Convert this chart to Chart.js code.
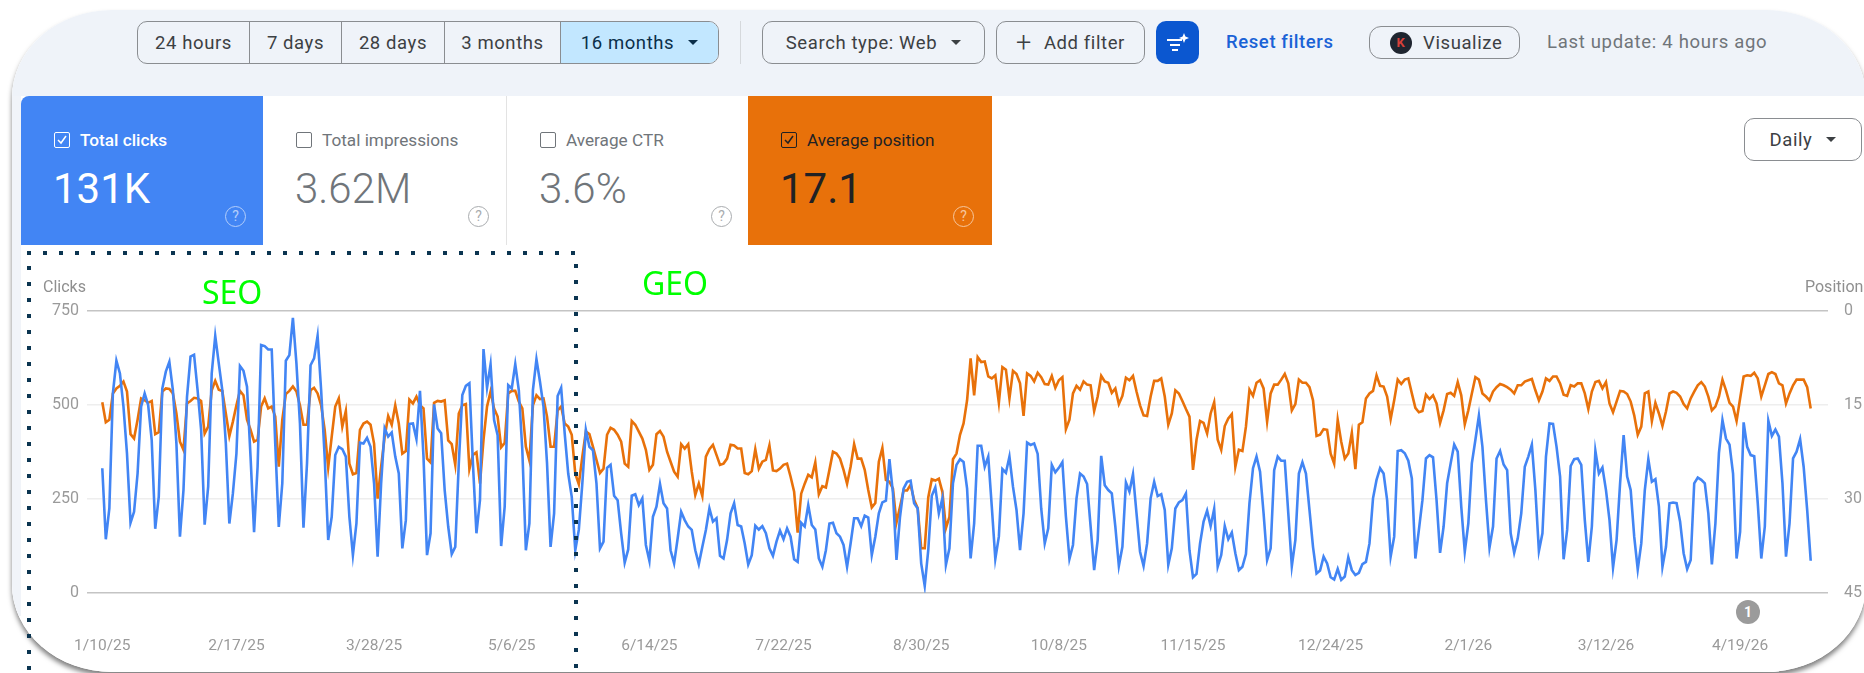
<!DOCTYPE html>
<html>
<head>
<meta charset="utf-8">
<title>Search performance</title>
<script src="https://cdn.jsdelivr.net/npm/chart.js@4"></script>
<style>
  html, body { margin: 0; width: 1864px; height: 673px; overflow: hidden; background: #fff; font-family: Roboto, sans-serif; }
  .abs { position: absolute; }
  /* big rounded screenshot frame */
  .frame { position: absolute; left: 12px; top: 10px; width: 1854px; height: 662px; background: #fff; overflow: hidden;
    border-radius: 100px / 88px; }
  .shadow { position: absolute; left: 12px; top: 10px; width: 1854px; height: 662px; border-radius: 100px / 88px;
    box-shadow: 0 4px 5px rgba(0,0,0,.5); }
  .page { position: absolute; left: -12px; top: -10px; width: 1864px; height: 673px; }
  .topbar { position: absolute; left: 0; top: 0; width: 1864px; height: 96px; background: #eff3f9; }
  .strip { position: absolute; left: 0; top: 96px; width: 21px; height: 520px; background: #f1f4f9; }
  .btn { position: absolute; box-sizing: border-box; border: 1.5px solid #8a8d91; color: #3c4043; font-size: 18.5px; letter-spacing: .6px;
    display: flex; align-items: center; justify-content: center; }
  .seg { position: absolute; left: 137px; top: 21px; width: 582px; height: 43px; box-sizing: border-box; border: 1.5px solid #8a8d91; border-radius: 10px; overflow: hidden; display: flex; color: #3c4043; font-size: 18.5px; letter-spacing: .6px; }
  .seg div { box-sizing: border-box; border-right: 1px solid #8a8d91; display: flex; align-items: center; justify-content: center; height: 100%; }
  .seg div:last-child { border-right: 0; background: #c2e7ff; color: #0b2f4a; }
  .caret { display: inline-block; width: 0; height: 0; border-left: 5px solid transparent; border-right: 5px solid transparent; border-top: 5px solid #3c4043; margin-left: 14px; }
  .card { position: absolute; top: 96px; height: 149px; background: #fff; }
  .card .lab { position: absolute; left: 59px; top: 34px; font-size: 17.2px; white-space: nowrap; line-height: 20px; }
  .card .box { position: absolute; left: 33px; top: 36px; width: 16px; height: 16px; box-sizing: border-box; border: 1.5px solid currentColor; border-radius: 2px; }
  .card .box svg { position: absolute; left: 1.5px; top: 1.5px; }
  .card .val { position: absolute; left: 32px; top: 69px; font-size: 42px; font-weight: 300; line-height: 48px; white-space: nowrap; }
  .card .help { position: absolute; left: 204px; top: 110px; width: 21px; height: 21px; box-sizing: border-box; border: 1.5px solid currentColor; border-radius: 50%; font-size: 14px; line-height: 18px; text-align: center; opacity: .6; }
  .chart-wrap { position: absolute; left: 0; top: 250px; width: 1864px; height: 423px; }
  .axis-title { position: absolute; top: 277px; font-size: 16px; color: #8f8f8f; }
  .note { position: absolute; left: 1736px; top: 600px; width: 24px; height: 24px; border-radius: 50%; background: #9b9b9b; color: #fff; font-size: 14px; font-weight: 700; line-height: 24px; text-align: center; }
  .zone { position: absolute; color: #00ff00; font-family: "Noto Sans", sans-serif; font-size: 32px; line-height: 36px; }
  .dots-h { position: absolute; height: 4px; background: repeating-linear-gradient(90deg, #0b3551 0 4px, transparent 4px 16px); }
  .dots-v { position: absolute; width: 4px; background: repeating-linear-gradient(180deg, #0b3551 0 4px, transparent 4px 16px); }
</style>
</head>
<body>
<div class="shadow"></div>
<div class="frame"><div class="page">
  <div class="topbar"></div>
  <div class="strip"></div>

  <div class="seg">
    <div style="width:112px">24 hours</div>
    <div style="width:92px">7 days</div>
    <div style="width:103px">28 days</div>
    <div style="width:116px">3 months</div>
    <div style="flex:1">16 months<span class="caret" style="border-top-color:#0b2f4a"></span></div>
  </div>
  <div class="abs" style="left:740px;top:21px;width:1px;height:43px;background:#d5d8dc"></div>
  <div class="btn" style="left:762px;top:21px;width:223px;height:43px;border-radius:10px">Search type: Web<span class="caret"></span></div>
  <div class="btn" style="left:996px;top:21px;width:149px;height:43px;border-radius:10px"><span style="font-size:27px;font-weight:300;margin-right:12px;line-height:20px">+</span>Add filter</div>
  <div class="btn" style="left:1156px;top:21px;width:43px;height:43px;border-radius:10px;background:#0b57d0;border:0">
    <svg width="24" height="22" viewBox="0 0 24 22"><g fill="#fff"><rect x="1" y="7" width="15" height="2"/><rect x="4" y="12" width="10" height="2"/><rect x="6" y="17" width="6" height="2"/><path d="M18 1l1.4 3.6L23 6l-3.6 1.4L18 11l-1.4-3.6L13 6l3.6-1.4z"/></g></svg>
  </div>
  <div class="abs" style="left:1226px;top:30px;color:#1a62d6;font-size:18.5px;letter-spacing:.6px;font-weight:500;line-height:24px">Reset filters</div>
  <div class="btn" style="left:1369px;top:26px;width:151px;height:33px;border-radius:12px;justify-content:flex-start;padding-left:20px">
    <span style="width:22px;height:22px;border-radius:50%;background:#1f2530;color:#d8403a;font-size:13px;font-weight:700;text-align:center;line-height:22px;margin-right:11px">K</span>Visualize
  </div>
  <div class="abs" style="left:1547px;top:30px;color:#70757a;font-size:18.5px;letter-spacing:.7px;line-height:24px;white-space:nowrap">Last update: 4 hours ago</div>

  <div class="card" style="left:21px;width:242px;background:#4285f4;color:#fff;border-top-left-radius:8px">
    <div class="box"><svg width="10" height="10" viewBox="0 0 10 10"><path d="M1 5l3 3 5-7" fill="none" stroke="#fff" stroke-width="1.5"/></svg></div>
    <div class="lab" style="font-weight:500">Total clicks</div>
    <div class="val" style="font-weight:400">131K</div>
    <div class="help">?</div>
  </div>
  <div class="card" style="left:263px;width:243px;color:#70757a;border-right:1px solid #e3e3e3">
    <div class="box" style="left:33px"></div>
    <div class="lab">Total impressions</div>
    <div class="val">3.62M</div>
    <div class="help" style="left:205px">?</div>
  </div>
  <div class="card" style="left:507px;width:241px;color:#70757a">
    <div class="box" style="left:33px"></div>
    <div class="lab">Average CTR</div>
    <div class="val">3.6%</div>
    <div class="help">?</div>
  </div>
  <div class="card" style="left:748px;width:244px;background:#e8710a;color:#202124">
    <div class="box"><svg width="10" height="10" viewBox="0 0 10 10"><path d="M1 5l3 3 5-7" fill="none" stroke="#202124" stroke-width="1.5"/></svg></div>
    <div class="lab">Average position</div>
    <div class="val" style="font-weight:400">17.1</div>
    <div class="help" style="color:#fff;left:205px">?</div>
  </div>
  <div class="btn" style="left:1744px;top:118px;width:118px;height:43px;border-radius:10px">Daily<span class="caret"></span></div>

  <div class="chart-wrap"><canvas id="gscChart"></canvas></div>
  <div class="axis-title" style="left:43px">Clicks</div>
  <div class="axis-title" style="left:1805px">Position</div>
  <div class="note">1</div>
</div></div>

<div class="zone" style="left:202px;top:274px">SEO</div>
<div class="zone" style="left:642px;top:265px">GEO</div>
<div class="dots-h" style="left:27px;top:251px;width:548px"></div>
<div class="dots-v" style="left:27px;top:266px;height:407px"></div>
<div class="dots-v" style="left:574px;top:264px;height:409px"></div>

<script>
// ===== DATA (one value per day, starting 1/10/25) =====
const tickDays = [0, 38, 77, 116, 155, 193, 232, 271, 309, 348, 387, 426, 464];
const tickLabels = ['1/10/25','2/17/25','3/28/25','5/6/25','6/14/25','7/22/25','8/30/25','10/8/25','11/15/25','12/24/25','2/1/26','3/12/26','4/19/26'];
const clickTicks = [0, 250, 500, 750];
const positionTicks = [0, 15, 30, 45];

const clicks = [
  331,142,224,530,617,583,495,370,186,215,317,495,530,499,406,170,255,543,588,614,539,397,149,273,521,628,633,539,433,181,282,583,683,610,
  539,397,184,264,370,603,590,548,362,161,335,659,656,647,647,397,175,291,617,632,731,610,450,173,344,605,623,683,539,362,140,202,366,388,
  382,362,202,100,184,399,397,412,388,291,96,291,437,415,426,362,317,118,193,449,450,409,537,362,100,158,501,437,424,273,176,103,122,344,
  526,550,557,344,158,246,648,545,607,459,419,124,229,552,543,608,539,379,113,184,539,621,561,495,344,122,211,523,545,424,317,255,113,167,
  291,433,388,379,291,118,136,332,340,258,246,158,80,115,258,262,233,
  251,127,85,202,229,289,238,224,113,78,144,215,193,176,167,113,76,122,167,224,189,198,98,91,140,211,238,180,176,131,75,100,178,168,177,
  158,118,98,136,165,142,171,149,89,82,186,176,233,180,168,91,69,113,184,186,158,149,127,69,131,198,198,177,205,200,100,149,211,240,245,
  355,264,87,202,277,295,298,238,224,78,18,113,258,280,211,
  251,74,118,291,340,355,348,277,91,184,391,391,335,362,229,90,149,329,319,362,282,220,113,211,399,393,397,369,224,131,171,340,320,332,347,
  202,90,127,251,317,309,289,176,60,140,364,286,273,264,176,71,122,293,269,315,211,109,71,131,251,295,257,262,220,74,118,224,240,246,264,
  113,41,50,131,189,218,177,223,69,100,177,142,160,105,60,
  69,103,238,331,362,322,211,87,118,326,362,351,351,211,71,140,317,347,317,220,122,51,59,96,78,41,35,63,34,43,94,60,47,53,76,82,131,251,
  300,331,317,246,96,149,377,379,371,351,304,91,167,246,357,366,360,246,106,176,291,344,394,375,229,109,184,344,406,471,388,246,120,176,
  357,377,341,326,158,106,144,211,335,362,394,273,111,
  158,362,450,449,388,309,89,167,337,355,357,340,193,82,176,377,317,333,273,193,67,140,291,419,309,273,149,62,131,273,355,295,302,229,69,
  122,238,240,238,189,105,63,87,291,306,300,291,211,75,184,371,459,410,394,317,91,162,453,388,366,363,238,91,176,457,417,434,415,291,96,
  184,357,375,408,335,220,85
];

const position = [
  14.6,17.8,17.4,13.2,12.4,12.0,11.3,12.9,19.7,20.4,17.4,14.0,14.3,14.7,14.4,19.7,19.4,12.9,12.4,12.5,13.2,16.4,20.9,22.2,14.8,14.4,13.9,14.0,14.4,19.6,18.5,12.7,11.2,12.6,
  12.8,16.4,20.0,17.7,15.1,12.8,13.5,17.4,19.0,20.9,20.6,15.3,14.0,15.6,15.3,16.9,24.9,17.4,13.3,12.8,12.1,12.9,15.1,18.2,18.2,12.7,12.3,13.2,15.1,19.0,25.0,20.1,15.3,14.0,
  18.5,16.0,24.4,26.1,25.9,19.0,18.0,17.7,18.2,21.2,30.0,24.9,20.1,16.8,18.2,15.1,18.0,22.8,22.4,14.2,14.8,13.7,15.1,15.6,23.6,24.2,14.7,14.4,14.5,14.3,20.7,21.3,24.6,16.4,
  15.1,14.9,25.3,23.0,22.6,27.6,20.6,15.3,12.9,15.6,16.9,21.8,21.1,13.2,12.8,12.8,14.5,15.6,21.7,23.9,15.1,13.5,14.1,14.0,16.9,21.7,21.7,15.9,15.3,18.0,18.5,19.8,26.0,27.7,
  23.3,19.3,19.7,21.7,23.8,25.9,25.2,19.8,18.7,19.0,19.8,20.9,24.4,24.9,17.6,18.2,19.3,
  20.4,22.2,25.4,24.6,19.7,19.2,20.1,22.5,24.1,25.7,26.5,21.3,22.0,21.3,25.7,29.4,27.6,29.6,23.3,22.1,21.4,23.0,24.6,24.4,23.6,21.4,21.5,22.0,22.0,25.9,26.1,25.6,22.1,25.2,24.1,
  23.8,21.5,25.5,25.6,25.2,24.6,24.4,26.5,28.9,35.4,29.2,27.6,26.2,26.6,24.2,29.3,28.0,28.2,25.4,22.5,22.8,23.6,25.4,27.6,24.9,21.3,23.6,23.6,25.4,28.6,31.4,30.7,24.1,21.9,27.0,
  27.3,28.4,33.8,31.3,28.7,28.7,27.8,30.2,31.5,37.9,37.9,29.8,26.9,27.1,26.8,
  28.9,34.7,32.9,23.7,22.8,19.8,18.0,14.3,7.6,13.5,7.4,8.2,8.1,10.5,10.8,10.3,14.7,9.0,9.4,14.0,9.6,10.1,11.6,16.8,10.0,10.4,11.3,9.9,10.6,11.7,11.8,10.4,12.3,11.1,10.6,
  18.9,17.4,13.2,12.0,12.6,11.3,11.8,11.9,16.0,13.7,10.4,11.3,11.5,13.1,12.4,14.9,13.6,10.7,11.1,10.4,12.9,15.1,16.7,16.8,13.7,11.2,11.2,10.8,13.7,18.2,16.4,12.7,13.2,14.4,15.7,
  16.9,25.4,20.6,17.6,17.9,19.6,16.4,14.6,20.6,22.2,18.4,17.2,16.5,24.9,22.2,
  22.4,18.5,12.6,13.6,11.5,11.1,12.4,17.7,13.2,11.8,11.8,11.0,10.1,11.6,15.9,14.9,11.0,11.5,11.5,12.2,14.3,20.0,19.8,18.9,19.0,22.8,24.4,17.4,20.9,23.6,22.8,19.5,25.3,18.2,17.8,14.0,13.2,12.8,
  10.3,12.0,12.1,13.7,17.3,14.3,11.0,11.7,11.0,10.8,13.2,15.5,16.2,16.0,13.4,14.1,13.5,14.8,17.9,15.9,13.3,13.1,13.6,11.4,13.5,18.1,15.9,13.2,10.6,11.0,13.2,13.7,14.3,12.9,12.2,11.7,
  11.9,12.2,12.6,13.2,11.9,11.9,11.3,11.1,10.9,12.7,14.3,
  12.9,10.8,11.2,10.5,10.5,11.6,13.4,13.6,11.9,12.1,11.6,11.6,13.2,15.7,12.9,11.4,11.2,12.4,11.4,14.8,16.2,14.5,12.8,12.9,13.3,14.5,16.7,19.8,18.5,13.2,12.9,17.6,14.7,16.4,18.4,16.1,
  13.2,12.9,13.1,13.7,14.9,15.6,14.0,12.9,11.9,11.4,12.1,13.7,15.9,15.3,13.7,11.0,12.7,14.7,15.3,17.6,14.0,10.5,10.3,10.4,9.9,10.8,13.7,11.9,10.1,9.8,10.1,11.6,11.9,14.8,13.2,11.9,
  11.0,11.0,11.0,12.2,15.6
];

// ===== CHART =====
const tickColor = '#9a9a9a';

new Chart(document.getElementById('gscChart'), {
  type: 'line',
  data: {
    datasets: [
      {
        label: 'Clicks',
        data: clicks.map((v, i) => ({ x: i, y: v })),
        yAxisID: 'y',
        borderColor: '#4285f4',
        borderWidth: 2.6,
        pointRadius: 0,
        tension: 0,
        order: 1,
      },
      {
        label: 'Position',
        data: position.map((v, i) => ({ x: i, y: v })),
        yAxisID: 'y2',
        borderColor: '#e8710a',
        borderWidth: 2.6,
        pointRadius: 0,
        tension: 0,
        order: 2,
      }
    ]
  },
  options: {
    responsive: true,
    maintainAspectRatio: false,
    animation: false,
    layout: { padding: { top: 60.7 } },
    plugins: { legend: { display: false }, tooltip: { enabled: false } },
    scales: {
      x: {
        type: 'linear',
        min: -4.33,
        max: 488.9,
        grid: { display: false },
        border: { display: false },
        afterBuildTicks: axis => { axis.ticks = tickDays.map(d => ({ value: d })); },
        afterFit: axis => { axis.height = 80.3; },
        ticks: {
          autoSkip: false,
          maxRotation: 0,
          padding: 36,
          font: { family: 'Roboto', size: 15.5 },
          color: tickColor,
          callback: v => tickLabels[tickDays.indexOf(v)],
        },
      },
      y: {
        position: 'left',
        min: 0,
        max: 750,
        border: { display: false },
        afterBuildTicks: axis => { axis.ticks = clickTicks.map(v => ({ value: v })); },
        afterFit: axis => { axis.width = 87; },
        grid: {
          drawTicks: false,
          lineWidth: 1.5,
          color: c => (c.tick.value === 0 || c.tick.value === 750) ? '#c4c4c4' : '#eeeeee',
        },
        ticks: { padding: 8, font: { family: 'Roboto', size: 16 }, color: tickColor },
      },
      y2: {
        position: 'right',
        reverse: true,
        min: 0,
        max: 45,
        border: { display: false },
        afterBuildTicks: axis => { axis.ticks = positionTicks.map(v => ({ value: v })); },
        afterFit: axis => { axis.width = 36; },
        grid: { display: false, drawOnChartArea: false },
        ticks: { padding: 8, font: { family: 'Roboto', size: 16 }, color: tickColor },
      },
    },
  },
});
</script>
</body>
</html>
